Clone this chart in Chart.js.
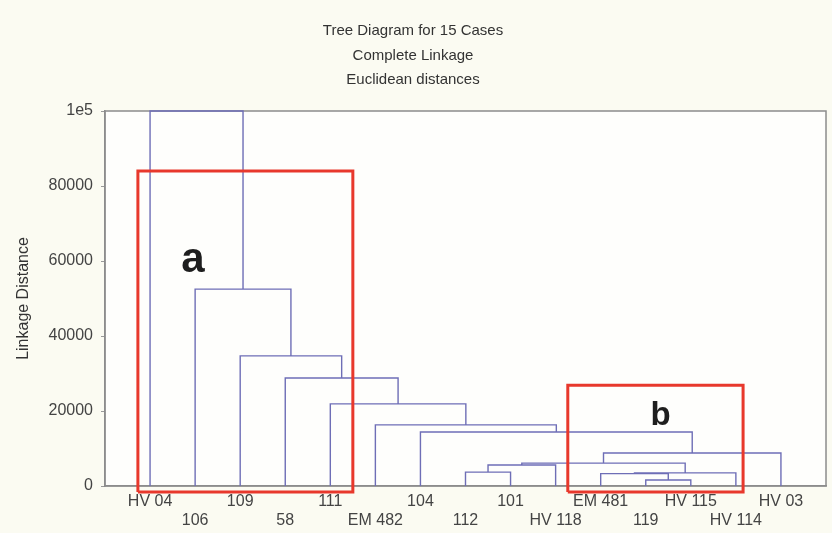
<!DOCTYPE html>
<html>
<head>
<meta charset="utf-8">
<script src="https://cdn.jsdelivr.net/npm/chart.js@4/dist/chart.umd.min.js"></script>
<style>
  body { margin: 0; background: #fbfbf2; }
  canvas { display: block; }
</style>
</head>
<body>
<canvas id="myChart" width="832" height="533"></canvas>
<script>
// leaves in the order they sit along the axis
let leaves = ['HV 04', '106', '109', '58', '111', 'EM 482', '104', '112', '101', 'HV 118', 'EM 481', '119', 'HV 115', 'HV 114', 'HV 03'];

// merges: ids 0..14 are leaves, each merge k becomes node 15+k
let mergeLeft   = [11, 10, 16, 7, 18, 19, 20, 6, 5, 4, 3, 2, 1, 0];
let mergeRight  = [12, 15, 13, 8, 9, 17, 14, 21, 22, 23, 24, 25, 26, 27];
let mergeHeight = [1600, 3300, 3500, 3700, 5600, 6100, 8800, 14400, 16300, 21900, 28800, 34700, 52500, 100000];

let yTicks = [0, 20000, 40000, 60000, 80000, 100000];

// red boxes drawn on top (x in leaf units, y in distance units)
let boxNames = ['a', 'b'];
let boxLeft   = [0.73, 10.27];
let boxRight  = [5.50, 14.16];
let boxTop    = [84000, 26900];
let boxBottom = [-1600, -1600];
let boxLabelX = [1.95, 12.33];
let boxLabelY = [57200, 16400];

let nodeX = leaves.map(function (l, i) { return i + 1; });
let nodeH = leaves.map(function () { return 0; });
let treeData = [];
for (let k = 0; k < mergeHeight.length; k++) {
    let a = mergeLeft[k], b = mergeRight[k], h = mergeHeight[k];
    treeData.push({x: nodeX[a], y: nodeH[a]});
    treeData.push({x: nodeX[a], y: h});
    treeData.push({x: nodeX[b], y: h});
    treeData.push({x: nodeX[b], y: nodeH[b]});
    treeData.push({x: nodeX[b], y: null});
    nodeX.push((nodeX[a] + nodeX[b]) / 2);
    nodeH.push(h);
}

let boxData = [];
for (let i = 0; i < boxNames.length; i++) {
    boxData.push({x: boxLeft[i], y: boxBottom[i]});
    boxData.push({x: boxLeft[i], y: boxTop[i]});
    boxData.push({x: boxRight[i], y: boxTop[i]});
    boxData.push({x: boxRight[i], y: boxBottom[i]});
    boxData.push({x: boxLeft[i], y: boxBottom[i]});
    boxData.push({x: boxLeft[i], y: null});
}

let bgPlugin = {
    id: 'bg',
    beforeDraw: function (chart) {
        let c = chart.ctx, a = chart.chartArea;
        c.save();
        c.fillStyle = '#fbfbf2';
        c.fillRect(0, 0, chart.width, chart.height);
        c.fillStyle = '#fefefc';
        c.fillRect(a.left, a.top, a.right - a.left, a.bottom - a.top);
        c.restore();
    },
    beforeDatasetsDraw: function (chart) {
        let c = chart.ctx, a = chart.chartArea;
        c.save();
        c.strokeStyle = '#8c8c8c';
        c.lineWidth = 1.5;
        c.strokeRect(a.left, a.top, a.right - a.left, a.bottom - a.top);
        c.restore();
    },
    afterDatasetsDraw: function (chart) {
        let c = chart.ctx;
        let xs = chart.scales.x, ys = chart.scales.y;
        c.save();
        c.fillStyle = '#1e1e1e';
        c.textAlign = 'center';
        c.textBaseline = 'alphabetic';
        for (let i = 0; i < boxNames.length; i++) {
            c.font = i == 0 ? 'bold 42px "Liberation Sans", Arial, sans-serif' : 'bold 33px "Liberation Sans", Arial, sans-serif';
            c.fillText(boxNames[i], xs.getPixelForValue(boxLabelX[i]), ys.getPixelForValue(boxLabelY[i]));
        }
        c.restore();
    }
};

let ctx = document.getElementById('myChart').getContext('2d');
let myChart = new Chart(ctx, {
    type: 'scatter',
    data: {
        datasets: [{
            label: 'boxes',
            data: boxData,
            showLine: true,
            spanGaps: false,
            borderColor: '#e8382c',
            borderWidth: 3,
            pointRadius: 0,
            clip: false,
            order: 0
        }, {
            label: 'tree',
            data: treeData,
            showLine: true,
            spanGaps: false,
            borderColor: '#6e6eb6',
            borderWidth: 1.4,
            pointRadius: 0,
            clip: false,
            order: 1
        }]
    },
    options: {
        responsive: false,
        animation: false,
        layout: { padding: { left: 0, right: 6, top: 0, bottom: 0 } },
        plugins: {
            legend: { display: false },
            tooltip: { enabled: false },
            title: {
                display: true,
                text: ['Tree Diagram for 15 Cases', 'Complete Linkage', 'Euclidean distances'],
                color: '#333',
                font: { family: '"Liberation Sans", Arial, sans-serif', size: 15, weight: 'normal', lineHeight: 24.5 / 15 },
                padding: { top: 19, bottom: 18.5 }
            }
        },
        scales: {
            x: {
                type: 'linear',
                min: 0,
                max: 16,
                afterFit: function (s) { s.height = 47; },
                afterBuildTicks: function (s) {
                    s.ticks = leaves.map(function (l, i) { return {value: i + 1}; });
                },
                grid: { display: false, drawTicks: false },
                border: { display: true, color: '#8c8c8c', width: 1.5 },
                ticks: {
                    autoSkip: false,
                    maxRotation: 0,
                    padding: 6,
                    color: '#444',
                    font: { family: '"Liberation Sans", Arial, sans-serif', size: 16, lineHeight: 1.2 },
                    callback: function (v) {
                        let name = leaves[v - 1];
                        return v % 2 == 0 ? ['', name] : name;
                    }
                }
            },
            y: {
                min: 0,
                max: 100000,
                afterFit: function (s) { s.width = 105; },
                afterBuildTicks: function (s) {
                    s.ticks = yTicks.map(function (t) { return {value: t}; });
                },
                grid: { display: true, drawOnChartArea: false, drawTicks: true, tickLength: 4, color: '#999' },
                border: { display: true, color: '#8c8c8c', width: 1.5 },
                ticks: {
                    padding: 8,
                    color: '#444',
                    font: { family: '"Liberation Sans", Arial, sans-serif', size: 16 },
                    callback: function (v) { return v == 100000 ? '1e5' : String(v); }
                },
                title: {
                    display: true,
                    text: 'Linkage Distance',
                    color: '#333',
                    font: { family: '"Liberation Sans", Arial, sans-serif', size: 16 },
                    padding: { top: 14, bottom: 0 }
                }
            }
        }
    },
    plugins: [bgPlugin]
});
</script>
</body>
</html>
